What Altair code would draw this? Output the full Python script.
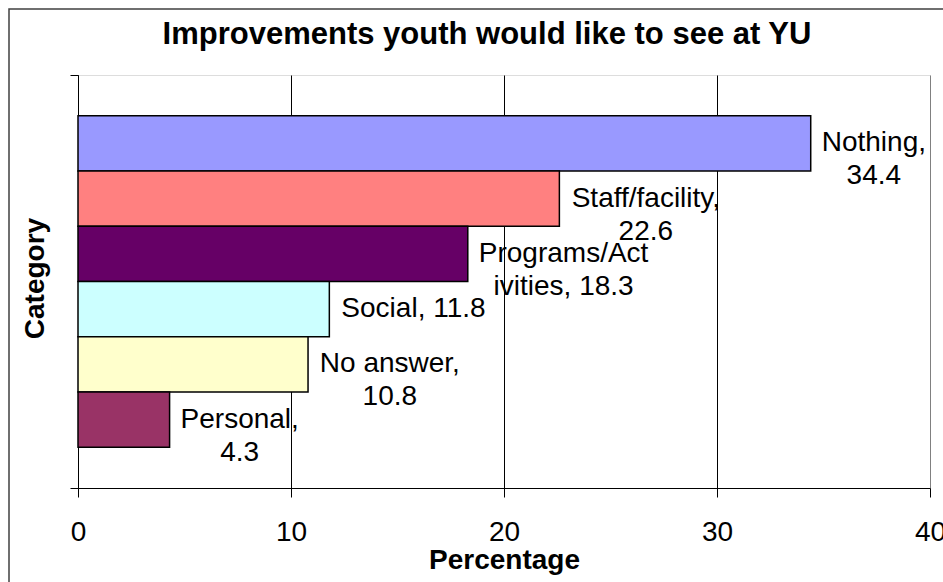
import altair as alt
import pandas as pd

# Survey responses: share of youth naming each area for improvement
categories = ["Nothing", "Staff/facility", "Programs/Activities", "Social", "No answer", "Personal"]
values = [34.4, 22.6, 18.3, 11.8, 10.8, 4.3]
colors = ["#9999FF", "#FF8080", "#660066", "#CCFFFF", "#FFFFCC", "#993366"]
# character position where each data label wraps onto a second line (None = single line)
wrap_cols = [8, 15, 12, None, 10, 9]
x_ticks = [0, 10, 20, 30, 40]

PLOT_W, PLOT_H = 852, 413
FONT = "Liberation Sans"
LABEL_SIZE = 28
LABEL_GAP = 11  # px between bar end and its label box

# Arial/Liberation Sans advance widths (1/1000 em) for the label glyphs
ADV = {" ": 278, ",": 278, ".": 278, "/": 278, "A": 667, "N": 722, "P": 667, "S": 667,
       "a": 556, "c": 500, "e": 556, "f": 278, "g": 556, "h": 556, "i": 222, "l": 222,
       "m": 833, "n": 556, "o": 556, "r": 333, "s": 500, "t": 278, "v": 500, "w": 722, "y": 500}


def text_width(s, size):
    return sum(ADV.get(ch, 556) for ch in s) / 1000 * size


labels, label_x = [], []
px_per_unit = PLOT_W / (x_ticks[-1] - x_ticks[0])
for cat, val, k in zip(categories, values, wrap_cols):
    full = f"{cat}, {val}"
    lines = [full] if k is None else [full[:k].rstrip(), full[k:].strip()]
    labels.append("\n".join(lines))
    w = max(text_width(s, LABEL_SIZE) for s in lines)
    label_x.append(val + (LABEL_GAP + w / 2) / px_per_unit)

df = pd.DataFrame({
    "category": categories,
    "value": values,
    "label": labels,
    "label_x": label_x,
    "group": ["all"] * len(categories),
})

x_scale = alt.Scale(domain=[x_ticks[0], x_ticks[-1]], nice=False)
y_enc = alt.Y(
    "group:N",
    title="Category",
    scale=alt.Scale(paddingInner=0, paddingOuter=0),
    axis=alt.Axis(
        labels=False, ticks=True, tickBand="extent", tickSize=8, tickColor="black",
        domainColor="black", domainWidth=1,
        titleFont=FONT, titleFontSize=28, titleFontWeight="bold", titleColor="black",
        titleAngle=270, titleX=-35, titleY=203, titleAlign="center", titleBaseline="alphabetic",
    ),
)
yoff_enc = alt.YOffset(
    "category:N", sort=categories,
    scale=alt.Scale(paddingInner=0, paddingOuter=0.735),
)

bars = alt.Chart(df).mark_bar(stroke="black", strokeWidth=1.5, opacity=1).encode(
    x=alt.X(
        "value:Q",
        scale=x_scale,
        title="Percentage",
        axis=alt.Axis(
            values=x_ticks, grid=True,
            gridColor=alt.condition("datum.value === 40", alt.value("#808080"), alt.value("#000000")),
            gridWidth=1, tickSize=9, tickColor="black", domainColor="black", domainWidth=1,
            labelFont=FONT, labelFontSize=28, labelColor="black", labelFlush=False, labelPadding=21,
            titleFont=FONT, titleFontSize=28, titleFontWeight="bold", titleColor="black",
            titleY=80, titleBaseline="alphabetic",
        ),
    ),
    y=y_enc,
    yOffset=yoff_enc,
    color=alt.Color("category:N", scale=alt.Scale(domain=categories, range=colors), legend=None),
)

text = alt.Chart(df).mark_text(
    font=FONT, fontSize=LABEL_SIZE, color="black", align="center", baseline="middle",
    lineBreak="\n", lineHeight=33,
).encode(
    x=alt.X("label_x:Q", scale=x_scale),
    y=y_enc,
    yOffset=yoff_enc,
    text="label:N",
)

# outer chart frame
frame = alt.Chart(pd.DataFrame({"k": [0]})).mark_rect(
    fill=None, stroke="#404040", strokeWidth=1.5
).encode(
    x=alt.value(-69), x2=alt.value(PLOT_W + 40),
    y=alt.value(-66), y2=alt.value(PLOT_H + 140),
)

# the frame extends the view bounds upward, so the title offset is negative
chart = alt.layer(bars, text, frame).properties(
    width=PLOT_W,
    height=PLOT_H,
    title=alt.Title(
        "Improvements youth would like to see at YU",
        font=FONT, fontSize=31, fontWeight="bold", color="black",
        anchor="middle", dx=-17, offset=-43,
    ),
    autosize=alt.AutoSizeParams(type="none"),
    padding={"left": 78, "top": 75, "right": 13, "bottom": 94},
).configure_view(
    fill="#C0C0C0", stroke="#808080", strokeWidth=1.5,
).configure(background="white")

chart.save("out.html", embed_options={"renderer": "svg", "actions": False})
